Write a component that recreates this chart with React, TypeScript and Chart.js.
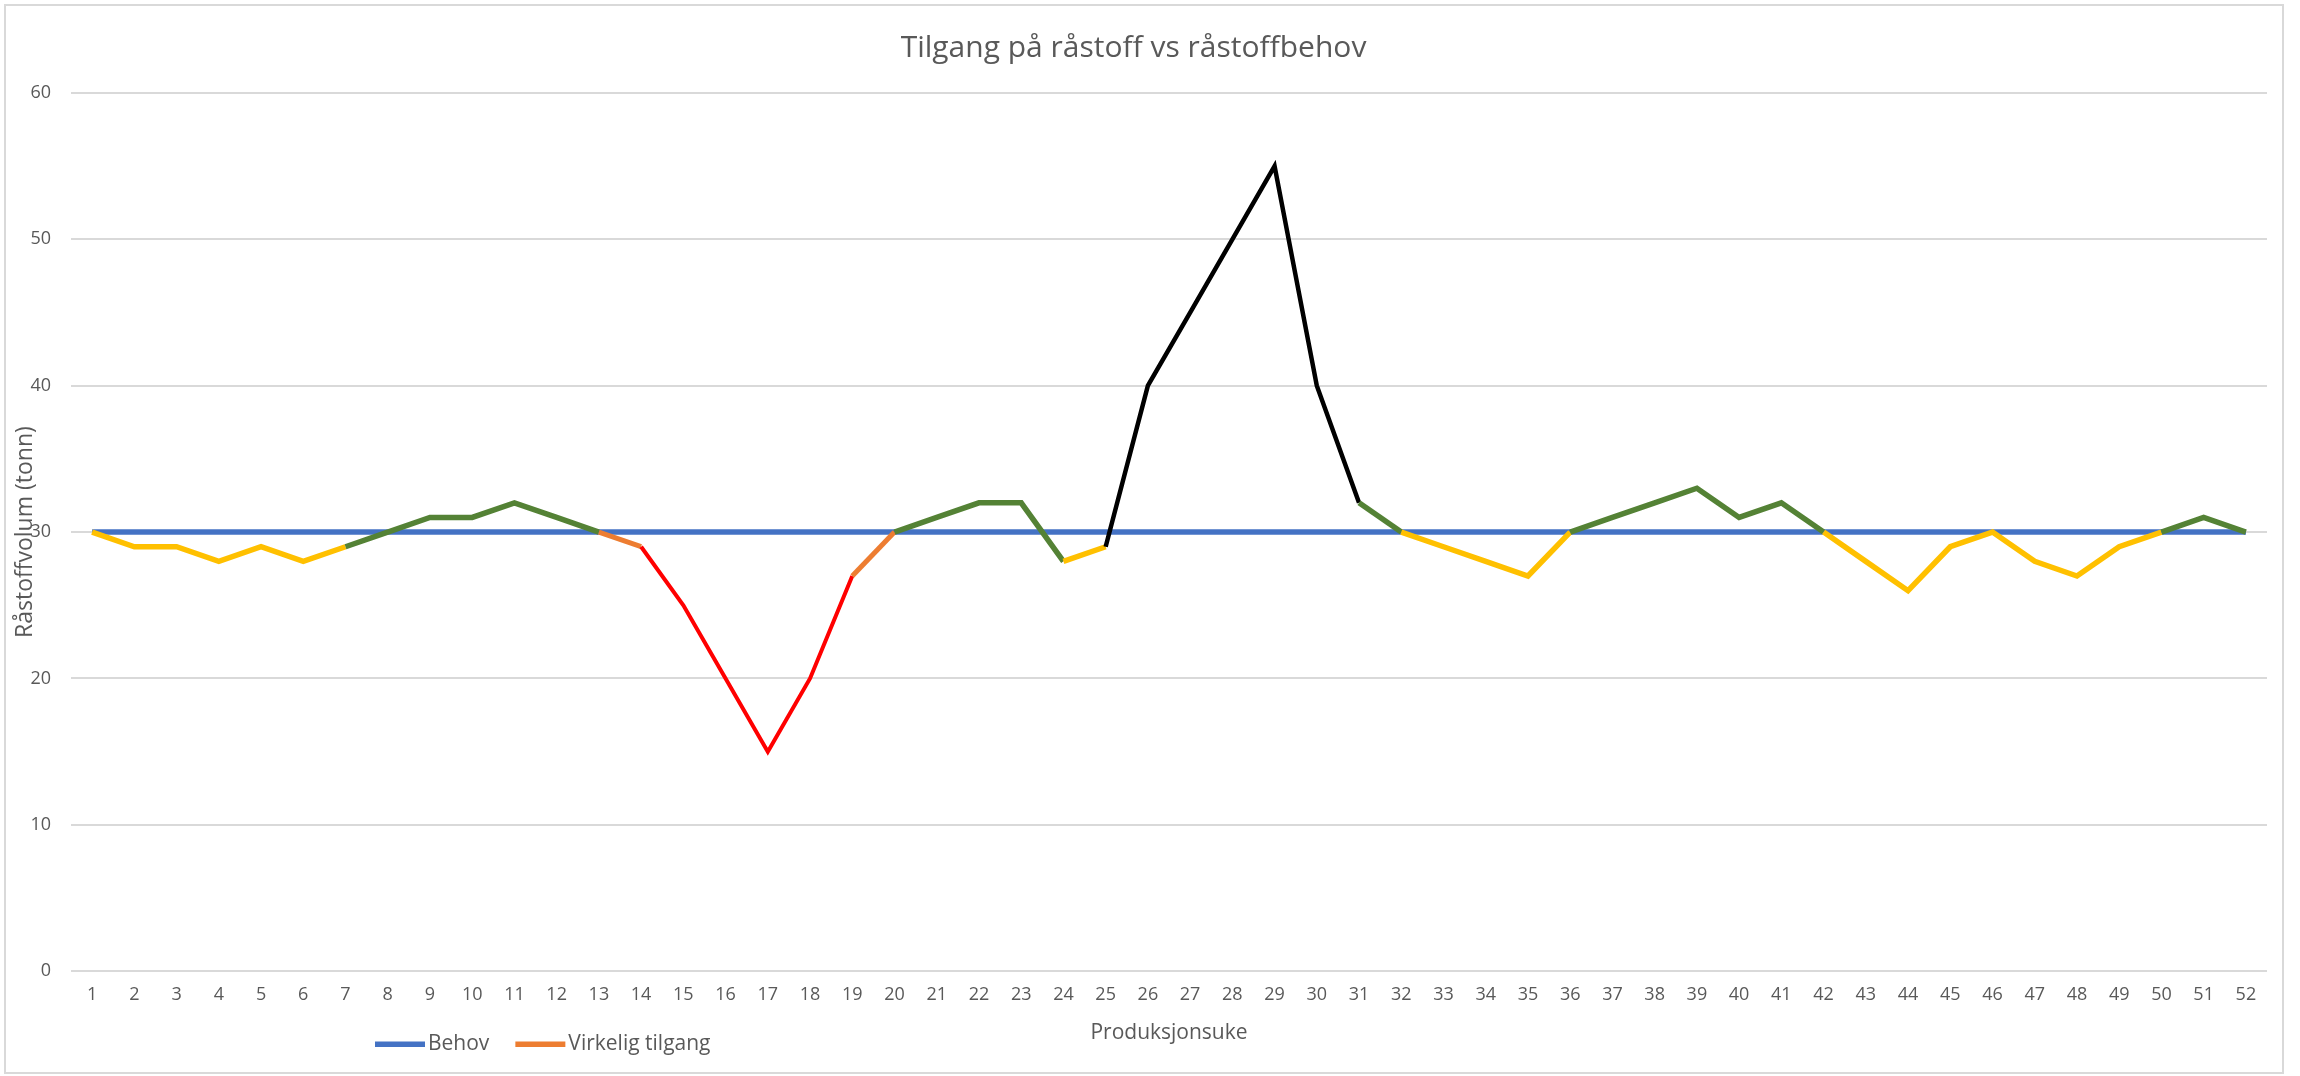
import React, { useEffect, useRef } from "react";
import { Chart, registerables } from "chart.js";

Chart.register(...registerables);

// ---- Data ----
const weeks: string[] = [
  "1", "2", "3", "4", "5", "6", "7", "8", "9", "10", "11", "12", "13",
  "14", "15", "16", "17", "18", "19", "20", "21", "22", "23", "24", "25", "26",
  "27", "28", "29", "30", "31", "32", "33", "34", "35", "36", "37", "38", "39",
  "40", "41", "42", "43", "44", "45", "46", "47", "48", "49", "50", "51", "52",
];

const behov: number[] = [
  30, 30, 30, 30, 30, 30, 30, 30, 30, 30, 30, 30, 30,
  30, 30, 30, 30, 30, 30, 30, 30, 30, 30, 30, 30, 30,
  30, 30, 30, 30, 30, 30, 30, 30, 30, 30, 30, 30, 30,
  30, 30, 30, 30, 30, 30, 30, 30, 30, 30, 30, 30, 30,
];

const virkeligTilgang: number[] = [
  30, 29, 29, 28, 29, 28, 29, 30, 31, 31, 32, 31, 30,
  29, 25, 20, 15, 20, 27, 30, 31, 32, 32, 28, 29, 40,
  45, 50, 55, 40, 32, 30, 29, 28, 27, 30, 31, 32, 33,
  31, 32, 30, 28, 26, 29, 30, 28, 27, 29, 30, 31, 30,
];

// status of each segment (from week i to week i+1), 51 segments
const segmentStatus: string[] = [
  "under", "under", "under", "under", "under", "under",
  "over", "over", "over", "over", "over", "over",
  "overgang",
  "kritisk", "kritisk", "kritisk", "kritisk", "kritisk",
  "overgang",
  "over", "over", "over", "over",
  "under",
  "overskudd", "overskudd", "overskudd", "overskudd", "overskudd", "overskudd",
  "over",
  "under", "under", "under", "under",
  "over", "over", "over", "over", "over", "over",
  "under", "under", "under", "under", "under", "under", "under", "under",
  "over", "over",
];

const yTicks: number[] = [0, 10, 20, 30, 40, 50, 60];

// ---- Styles ----
const statusColors: Record<string, string> = {
  under: "#FFC000",
  over: "#548235",
  overgang: "#ED7D31",
  kritisk: "#FF0000",
  overskudd: "#000000",
};
const statusWidths: Record<string, number> = {
  under: 5.5,
  over: 5.5,
  overgang: 5,
  kritisk: 4,
  overskudd: 4.5,
};

const FONT = "'Open Sans', 'Noto Sans', sans-serif";
const TEXT = "#595959";
const GRID = "#d9d9d9";

const legendPlugin = {
  id: "bottomLegend",
  afterDraw(chart: any) {
    const ctx = chart.ctx as CanvasRenderingContext2D;
    const area = chart.chartArea;
    const y = area.bottom + 73;
    let x = area.left + 304;
    ctx.save();
    ctx.font = `21px ${FONT}`;
    ctx.textBaseline = "middle";
    ctx.textAlign = "left";
    chart.data.datasets.forEach((ds: any) => {
      ctx.strokeStyle = ds.borderColor;
      ctx.lineWidth = 5.5;
      ctx.lineCap = "butt";
      ctx.beginPath();
      ctx.moveTo(x, y);
      ctx.lineTo(x + 50, y);
      ctx.stroke();
      ctx.fillStyle = TEXT;
      ctx.fillText(ds.label, x + 53, y);
      x += 53 + ctx.measureText(ds.label).width + 26;
    });
    ctx.restore();
  },
};

export default function App() {
  const canvasRef = useRef<HTMLCanvasElement | null>(null);

  useEffect(() => {
    document.body.style.margin = "0";
    const canvas = canvasRef.current;
    if (!canvas) return;
    const chart = new Chart(canvas, {
      type: "line",
      data: {
        labels: weeks,
        datasets: [
          {
            label: "Behov",
            data: behov,
            borderColor: "#4472C4",
            backgroundColor: "#4472C4",
            borderWidth: 5.5,
            pointRadius: 0,
            pointHoverRadius: 0,
            tension: 0,
            order: 1,
          },
          {
            label: "Virkelig tilgang",
            data: virkeligTilgang,
            borderColor: "#ED7D31",
            backgroundColor: "#ED7D31",
            borderWidth: 5.5,
            pointRadius: 0,
            pointHoverRadius: 0,
            tension: 0,
            order: 0,
            segment: {
              borderColor: (c: any) => statusColors[segmentStatus[c.p0DataIndex]],
              borderWidth: (c: any) => statusWidths[segmentStatus[c.p0DataIndex]],
            },
          } as any,
        ],
      },
      options: {
        responsive: false,
        animation: false,
        layout: { padding: { left: 0, right: 33, top: 0, bottom: 30 } },
        plugins: {
          legend: { display: false },
          tooltip: { enabled: false },
          title: {
            display: true,
            text: "Tilgang på råstoff vs råstoffbehov",
            color: TEXT,
            font: { family: FONT, size: 30, weight: "normal" },
            padding: { top: 30, bottom: 27 },
          },
        },
        scales: {
          x: {
            offset: true,
            grid: { display: false, drawTicks: false, tickLength: 0 },
            border: { display: false },
            ticks: {
              color: TEXT,
              font: { family: FONT, size: 18 },
              padding: 13,
              maxRotation: 0,
              autoSkip: false,
            },
            title: {
              display: true,
              text: "Produksjonsuke",
              color: TEXT,
              font: { family: FONT, size: 21 },
              padding: { top: 2, bottom: 0 },
            },
          },
          y: {
            min: yTicks[0],
            max: yTicks[yTicks.length - 1],
            afterBuildTicks: (axis: any) => {
              axis.ticks = yTicks.map((v) => ({ value: v }));
            },
            afterFit: (axis: any) => {
              axis.width = 71;
            },
            grid: { color: GRID, lineWidth: 2, drawTicks: false, tickLength: 0 },
            border: { display: false },
            ticks: {
              color: TEXT,
              font: { family: FONT, size: 18 },
              padding: 20,
            },
            title: {
              display: true,
              text: "Råstoffvolum (tonn)",
              color: TEXT,
              font: { family: FONT, size: 23 },
              padding: { top: 12, bottom: 0 },
            },
          },
        },
      },
      plugins: [legendPlugin],
    });
    return () => chart.destroy();
  }, []);

  return (
    <div style={{ position: "relative", width: 2300, height: 1076, background: "#fff" }}>
      <canvas ref={canvasRef} width={2300} height={1076} style={{ display: "block" }} />
      <div
        style={{
          position: "absolute",
          left: 4,
          top: 4,
          width: 2276,
          height: 1066,
          border: "2px solid #d9d9d9",
          pointerEvents: "none",
        }}
      />
    </div>
  );
}
